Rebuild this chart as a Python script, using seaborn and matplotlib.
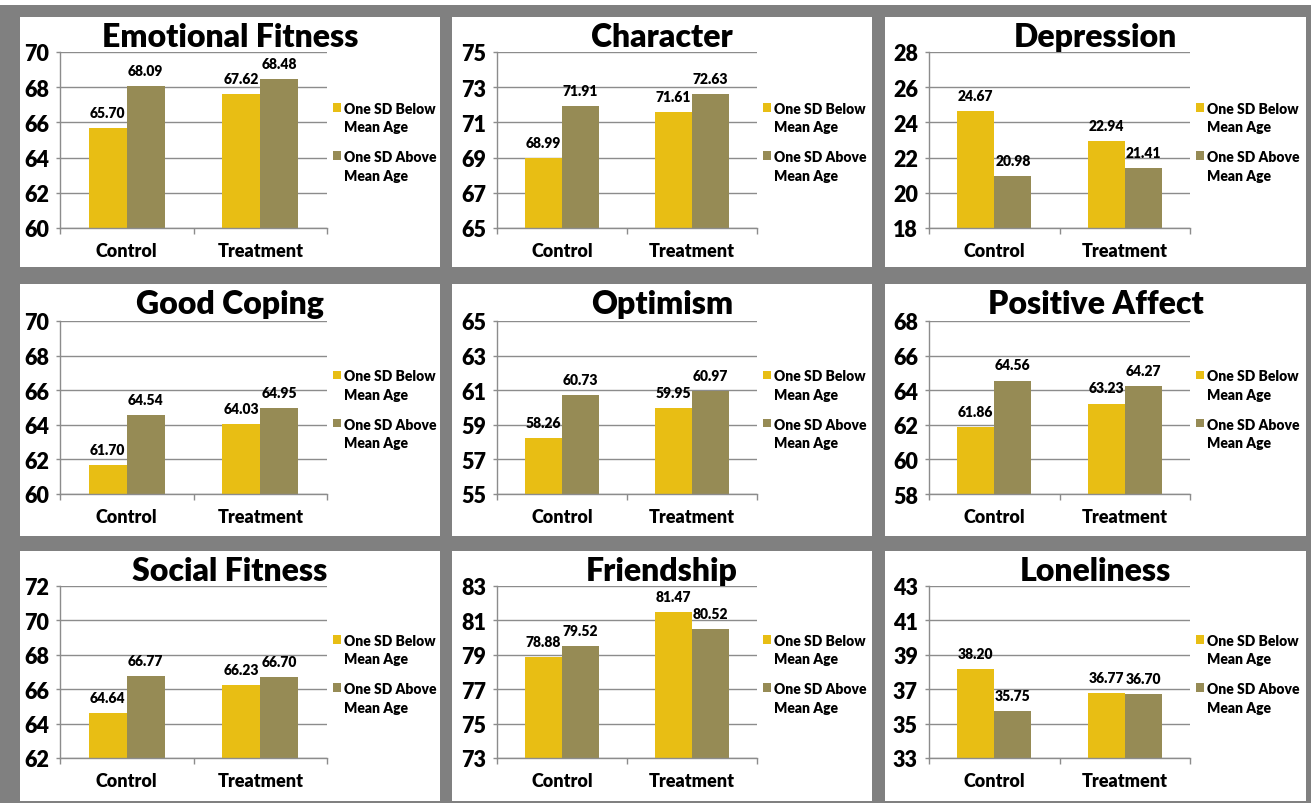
import numpy as np
import pandas as pd
import matplotlib
matplotlib.use("Agg")
import matplotlib.pyplot as plt
import matplotlib.patches as mpatches
from matplotlib.legend_handler import HandlerPatch
import seaborn as sns

# chart data
titles = ["Emotional Fitness", "Character", "Depression",
          "Good Coping", "Optimism", "Positive Affect",
          "Social Fitness", "Friendship", "Loneliness"]
groups = ["Control", "Treatment"]
ages = ["One SD Below\nMean Age", "One SD Above\nMean Age"]

below = [[65.70, 67.62], [68.99, 71.61], [24.67, 22.94],
         [61.70, 64.03], [58.26, 59.95], [61.86, 63.23],
         [64.64, 66.23], [78.88, 81.47], [38.20, 36.77]]
above = [[68.09, 68.48], [71.91, 72.63], [20.98, 21.41],
         [64.54, 64.95], [60.73, 60.97], [64.56, 64.27],
         [66.77, 66.70], [79.52, 80.52], [35.75, 36.70]]
y_min = [60, 65, 18, 60, 55, 58, 62, 73, 33]

colors = ["#E8BE14", "#968B55"]

sns.set_style("white")
plt.rcParams["font.family"] = ["Lato", "DejaVu Sans"]
plt.rcParams["font.weight"] = "heavy"
plt.rcParams["text.color"] = "black"
plt.rcParams["xtick.color"] = "black"
plt.rcParams["ytick.color"] = "black"

W, H = 1311, 804
fig = plt.figure(figsize=(W / 100, H / 100), dpi=100, facecolor="#808080")

def fx(px):
    return px / W

def fy(py):
    return 1 - py / H

# white strip at the very top
fig.patches.append(mpatches.Rectangle((0, fy(6)), 1, 6 / H, transform=fig.transFigure,
                                      facecolor="white", edgecolor="none", zorder=-5))

panel_x = [(20, 440), (452, 872), (885, 1306)]
panel_y = [(18, 268), (285, 537), (552, 802)]
axes_x = [(60, 327), (497, 757), (929, 1190)]
axes_y = [(53, 229), (322, 495), (587, 759)]


def top_handle(legend, orig_handle, xdescent, ydescent, width, height, fontsize):
    # put the square next to the first line of the label
    return mpatches.Rectangle((-xdescent, -ydescent + 0.78 * fontsize), width, height)


for i, title in enumerate(titles):
    r, c = divmod(i, 3)
    px0, px1 = panel_x[c]
    py0, py1 = panel_y[r]
    fig.patches.append(mpatches.Rectangle((fx(px0), fy(py1)), fx(px1 - px0), (py1 - py0) / H,
                                          transform=fig.transFigure, facecolor="white",
                                          edgecolor="none", zorder=-5))
    ax0, ax1 = axes_x[c]
    ay0, ay1 = axes_y[r]
    ax = fig.add_axes([fx(ax0), fy(ay1), fx(ax1 - ax0), (ay1 - ay0) / H])
    ax.set_zorder(2)
    ax.patch.set_alpha(0)

    df = pd.DataFrame({
        "group": groups * 2,
        "age": [ages[0]] * 2 + [ages[1]] * 2,
        "value": below[i] + above[i],
    })
    sns.barplot(data=df, x="group", y="value", hue="age", palette=colors,
                width=0.57, gap=0, linewidth=0, saturation=1, ax=ax)
    for cont in ax.containers:
        ax.bar_label(cont, fmt="%.2f", padding=6.5, fontsize=10, fontweight="heavy")

    ax.set_ylim(y_min[i], y_min[i] + 10)
    ax.set_yticks(np.arange(y_min[i], y_min[i] + 11, 2))
    ax.set_xlim(-0.5, 1.5)
    ax.set_xlabel("")
    ax.set_ylabel("")
    ax.grid(axis="y", color="#8C8C8C", linewidth=1)
    ax.set_axisbelow(True)
    for s in ["top", "right"]:
        ax.spines[s].set_visible(False)
    for s in ["left", "bottom"]:
        ax.spines[s].set_color("#8C8C8C")
        ax.spines[s].set_linewidth(1)
    ax.tick_params(axis="y", length=3, width=1, color="#8C8C8C", pad=5,
                   labelsize=15.5, left=True)
    ax.tick_params(axis="x", length=0, pad=10, labelsize=13)
    ax.set_xticks([-0.5, 0.5, 1.5], minor=True)
    ax.tick_params(axis="x", which="minor", length=4, width=1, color="#8C8C8C", bottom=True)
    for lab in ax.get_xticklabels() + ax.get_yticklabels():
        lab.set_fontweight("heavy")

    leg = ax.legend(loc="center left", bbox_to_anchor=(0.995, 0.49), frameon=False,
                    prop={"size": 10, "weight": "heavy"}, handlelength=0.6, handleheight=0.6,
                    handletextpad=0.25, labelspacing=1.2, borderaxespad=0.1,
                    handler_map={mpatches.Rectangle: HandlerPatch(patch_func=top_handle)})
    for t in leg.get_texts():
        t.set_linespacing(1.5)

    fig.text(fx((px0 + px1) / 2), fy(py0 + 29), title, ha="center", va="baseline",
             fontsize=23, fontweight="heavy")

fig.savefig("out.png", dpi=100, facecolor=fig.get_facecolor())
